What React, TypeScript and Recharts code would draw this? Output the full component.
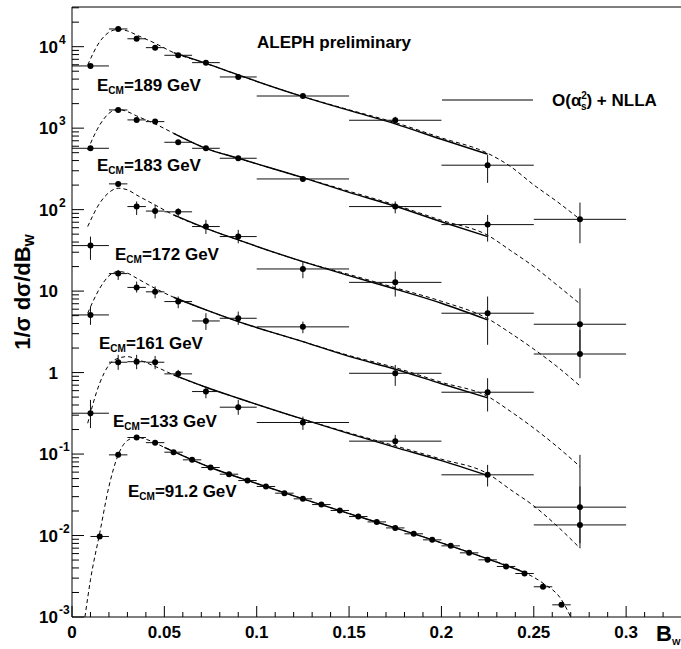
import React from "react";
import {
  ComposedChart,
  Line,
  Scatter,
  ErrorBar,
  XAxis,
  YAxis,
  ReferenceLine,
} from "recharts";

// bin centres and half widths for the high energy samples
const binCenters = [0.01, 0.025, 0.035, 0.045, 0.0575, 0.0725, 0.09, 0.125, 0.175, 0.225, 0.275];
const binHalf = [0.01, 0.005, 0.005, 0.005, 0.0075, 0.0075, 0.01, 0.025, 0.025, 0.025, 0.025];

const y189 = [5800, 16500, 12500, 9730, 7840, 6370, 4250, 2480, 1250, 351, 76];
const lo189 = [5450, 15900, 12000, 9300, 7550, 6150, 4100, 2380, 1130, 213, 38.7];
const hi189 = [6150, 17100, 13000, 10150, 8150, 6600, 4400, 2580, 1380, 469, 122];

const y183 = [566, 1672, 1262, 1203, 671, 566, 427, 238, 109, 65.5, 3.92];
const lo183 = [530, 1600, 1210, 1150, 635, 535, 408, 227, 90, 40.5, 1.73];
const hi183 = [605, 1745, 1315, 1255, 708, 598, 446, 249, 126, 86, 10.8];

const y172 = [36.2, 207, 109, 96, 94, 62, 46.7, 18.7, 12.8, 5.35, 1.69];
const lo172 = [24.2, 194, 86, 78, 82, 50.3, 38.6, 14.4, 8.57, 2.19, 0.853];
const hi172 = [46.7, 220, 126, 114, 104, 74.8, 56.4, 23, 17.4, 8.57, 3.34];

const y161 = [5.1, 16.4, 11.1, 9.8, 7.44, 4.3, 4.64, 3.64, 0.98, 0.574, 0.0223];
const lo161 = [3.85, 13.7, 9.6, 8.17, 6.17, 3.34, 3.85, 3.04, 0.687, 0.333, 0.00805];
const hi161 = [6.46, 18.2, 13.1, 11.4, 8.57, 5.35, 5.61, 4.23, 1.24, 0.853, 0.0977];

const y133 = [0.317, 1.34, 1.36, 1.34, 0.964, 0.585, 0.376, 0.244, 0.144, 0.0556, 0.0135];
const lo133 = [0.208, 1.08, 1.1, 1.1, 0.853, 0.484, 0.303, 0.198, 0.124, 0.04, 0.007];
const hi133 = [0.462, 1.65, 1.65, 1.6, 1.08, 0.675, 0.462, 0.288, 0.172, 0.0736, 0.04];

// LEP1 sample, 0.01 wide bins
const x91 = [0.015, 0.025, 0.035, 0.045, 0.055, 0.065, 0.075, 0.085, 0.095, 0.105, 0.115, 0.125, 0.135,
  0.145, 0.155, 0.165, 0.175, 0.185, 0.195, 0.205, 0.215, 0.225, 0.235, 0.245, 0.255, 0.265];
const y91 = [0.00973, 0.0977, 0.1596, 0.138, 0.1054, 0.0849, 0.0684, 0.0566, 0.0473, 0.04, 0.0331, 0.0282,
  0.024, 0.0203, 0.0171, 0.0147, 0.0124, 0.0105, 0.00885, 0.00747, 0.00613, 0.00503, 0.00417, 0.00342,
  0.00235, 0.00141];

// theory curves: dashed over full range, solid over fit range
const dashX = [0.0085, 0.015, 0.02, 0.025, 0.03, 0.035, 0.045, 0.055, 0.0725, 0.09, 0.125, 0.15, 0.175, 0.2,
  0.225, 0.2375, 0.25, 0.2625, 0.275];
const d189 = [5960, 11500, 15000, 16300, 15600, 13900, 11000, 8450, 6250, 4500, 2440, 1680, 1170, 760,
  492, 337, 201, 126, 76];
const d183 = [541, 1094, 1521, 1702, 1595, 1413, 1127, 866, 566, 427, 247, 168, 114, 74,
  48.5, 31.4, 20, 11.9, 6.97];
const d172 = [62, 120, 162, 183, 175, 151, 114, 86, 59, 42.5, 23, 16, 11, 7.5,
  4.6, 3.04, 1.94, 1.19, 0.687];
const d161 = [5.35, 10.8, 15.4, 17.4, 16.6, 14.4, 10.8, 8.41, 5.88, 4.23, 2.4, 1.62, 1.15, 0.76,
  0.51, 0.333, 0.208, 0.124, 0.0703];
const d133 = [0.239, 0.741, 1.24, 1.5, 1.57, 1.46, 1.19, 0.937, 0.661, 0.484, 0.268, 0.182, 0.126, 0.0865,
  0.0575, 0.0364, 0.0231, 0.01315, 0.007];

const solidX = [0.055, 0.0725, 0.09, 0.125, 0.15, 0.175, 0.2, 0.225];
const s189 = [8450, 6250, 4500, 2440, 1650, 1130, 730, 479];
const s183 = [866, 566, 427, 247, 163, 110, 71, 46.7];
const s172 = [86, 59, 42.5, 23, 15.5, 10.6, 7.1, 4.44];
const s161 = [8.41, 5.88, 4.23, 2.4, 1.58, 1.1, 0.73, 0.49];
const s133 = [0.937, 0.661, 0.484, 0.268, 0.178, 0.121, 0.083, 0.0545];

const d91x = [0.007, 0.01, 0.015, 0.02, 0.025, 0.03, 0.035, 0.04, 0.05, 0.075, 0.1, 0.125, 0.15, 0.175, 0.2,
  0.225, 0.245, 0.255, 0.265, 0.27];
const d91 = [0.001, 0.00286, 0.0107, 0.04, 0.0977, 0.1466, 0.161, 0.152, 0.121, 0.0684, 0.0435, 0.0282, 0.0186,
  0.0124, 0.00813, 0.00518, 0.00352, 0.0026, 0.00163, 0.001];
const s91x = [0.05, 0.075, 0.1, 0.125, 0.15, 0.175, 0.2, 0.225, 0.245];
const s91 = [0.121, 0.0684, 0.0435, 0.0282, 0.0186, 0.0124, 0.00813, 0.00518, 0.00352];

const energyLabels = ["189", "183", "172", "161", "133", "91.2"];

const W = 681;
const H = 649;
const X_MAX = 0.3297;
const Y_MIN = 1e-3;
const Y_MAX = 30690;
const FONT = "'Liberation Sans', Arial, Helvetica, sans-serif";

const points = (ys: number[], lo: number[], hi: number[]) =>
  binCenters.map((x, i) => ({ x, y: ys[i], ex: binHalf[i], ey: [ys[i] - lo[i], hi[i] - ys[i]] }));
const curve = (xs: number[], ys: number[]) => xs.map((x, i) => ({ x, y: ys[i] }));

const dataSets = [
  points(y189, lo189, hi189),
  points(y183, lo183, hi183),
  points(y172, lo172, hi172),
  points(y161, lo161, hi161),
  points(y133, lo133, hi133),
];
const data91 = x91.map((x, i) => ({ x, y: y91[i], ex: 0.005 }));

const dashed = [
  curve(dashX, d189), curve(dashX, d183), curve(dashX, d172), curve(dashX, d161), curve(dashX, d133), curve(d91x, d91),
];
const solid = [
  curve(solidX, s189), curve(solidX, s183), curve(solidX, s172), curve(solidX, s161), curve(solidX, s133), curve(s91x, s91),
];

const yTicks: number[] = [];
for (let d = -3; d <= 4; d++) {
  for (let m = 1; m <= 9; m++) {
    const v = m * Math.pow(10, d);
    if (v <= Y_MAX) yTicks.push(v);
  }
}
const xTicks: number[] = [];
for (let i = 0; i <= 32; i++) xTicks.push(i / 100);

const Dot = (p: any) => <circle cx={p.cx} cy={p.cy} r={3} fill="#000" />;

const YTick = (p: any) => {
  const v = p.payload.value;
  const e = Math.round(Math.log10(v));
  const major = Math.abs(v - Math.pow(10, e)) / v < 1e-6;
  return (
    <g>
      <line x1={p.x} x2={p.x + (major ? 12 : 7)} y1={p.y} y2={p.y} stroke="#000" />
      {major && (
        <text x={58} y={p.y + 6} textAnchor="end" fontSize={17} fontWeight="bold" fontFamily={FONT} fill="#000">
          {e === 0 ? "1" : "10"}
        </text>
      )}
      {major && e !== 0 && e !== 1 && (
        <text x={59} y={p.y - 3} fontSize={12} fontWeight="bold" fontFamily={FONT} fill="#000">
          {String(e)}
        </text>
      )}
    </g>
  );
};

const XTick = (p: any) => {
  const v = p.payload.value;
  const major = Math.round(v * 100) % 5 === 0;
  return (
    <g>
      <line x1={p.x} x2={p.x} y1={p.y} y2={p.y - (major ? 11 : 5)} stroke="#000" />
      {major && v < 0.31 && (
        <text x={p.x} y={p.y + 21} textAnchor="middle" fontSize={17} fontWeight="bold" fontFamily={FONT} fill="#000">
          {v === 0 ? "0" : String(+v.toFixed(2))}
        </text>
      )}
    </g>
  );
};

const labelPos = [
  [97, 91], [97, 171], [115, 260], [99, 349], [113, 427], [128, 497],
];

export default function App() {
  return (
    <div style={{ position: "absolute", left: 0, top: 0, width: W, height: H, background: "#fff" }}>
      <ComposedChart width={W} height={H} margin={{ top: 7, right: 0, bottom: 0, left: 0 }}>
        <XAxis
          dataKey="x"
          type="number"
          domain={[0, X_MAX]}
          allowDataOverflow
          ticks={xTicks}
          interval={0}
          tickSize={0}
          tickMargin={0}
          height={32}
          stroke="#000"
          tick={<XTick />}
        />
        <YAxis
          dataKey="y"
          type="number"
          scale="log"
          domain={[Y_MIN, Y_MAX]}
          allowDataOverflow
          ticks={yTicks}
          interval={0}
          tickSize={0}
          tickMargin={0}
          width={72}
          stroke="#000"
          tick={<YTick />}
        />
        <ReferenceLine y={Y_MAX} stroke="#000" />
        {dashed.map((d, i) => (
          <Line
            key={"d" + i}
            data={d}
            dataKey="y"
            type="monotone"
            stroke="#000"
            strokeWidth={1}
            strokeDasharray="4 3"
            dot={false}
            isAnimationActive={false}
          />
        ))}
        {solid.map((d, i) => (
          <Line
            key={"s" + i}
            data={d}
            dataKey="y"
            type="monotone"
            stroke="#000"
            strokeWidth={1.4}
            dot={false}
            isAnimationActive={false}
          />
        ))}
        {dataSets.map((d, i) => (
          <Scatter key={"p" + i} data={d} shape={<Dot />} isAnimationActive={false}>
            <ErrorBar dataKey="ex" direction="x" width={0} stroke="#111" strokeWidth={1} />
            <ErrorBar dataKey="ey" direction="y" width={0} stroke="#111" strokeWidth={1} />
          </Scatter>
        ))}
        <Scatter data={data91} shape={<Dot />} isAnimationActive={false}>
          <ErrorBar dataKey="ex" direction="x" width={0} stroke="#111" strokeWidth={1} />
        </Scatter>
      </ComposedChart>
      <svg
        width={W}
        height={H}
        style={{ position: "absolute", left: 0, top: 0, pointerEvents: "none" }}
        fontFamily={FONT}
        fontWeight="bold"
      >
        <text x={257} y={48} fontSize={17}>ALEPH preliminary</text>
        {energyLabels.map((e, i) => (
          <text key={e} x={labelPos[i][0]} y={labelPos[i][1]} fontSize={17}>
            E
            <tspan fontSize={10} dy={3}>CM</tspan>
            <tspan dy={-3}>{"=" + e + " GeV"}</tspan>
          </text>
        ))}
        <line x1={442} x2={533} y1={100} y2={100} stroke="#000" strokeWidth={1.2} />
        <text x={552} y={106} fontSize={17}>
          O(α
          <tspan fontSize={10} dy={-7}>2</tspan>
          <tspan fontSize={10} dx={-6} dy={11}>s</tspan>
          <tspan dy={-4}>) + NLLA</tspan>
        </text>
        <text x={656} y={641} fontSize={22}>
          B<tspan fontSize={9} dy={4}>W</tspan>
        </text>
        <text transform="translate(30,292) rotate(-90)" textAnchor="middle" fontSize={22}>
          1/σ dσ/dB<tspan fontSize={13} dy={4}>W</tspan>
        </text>
      </svg>
    </div>
  );
}
